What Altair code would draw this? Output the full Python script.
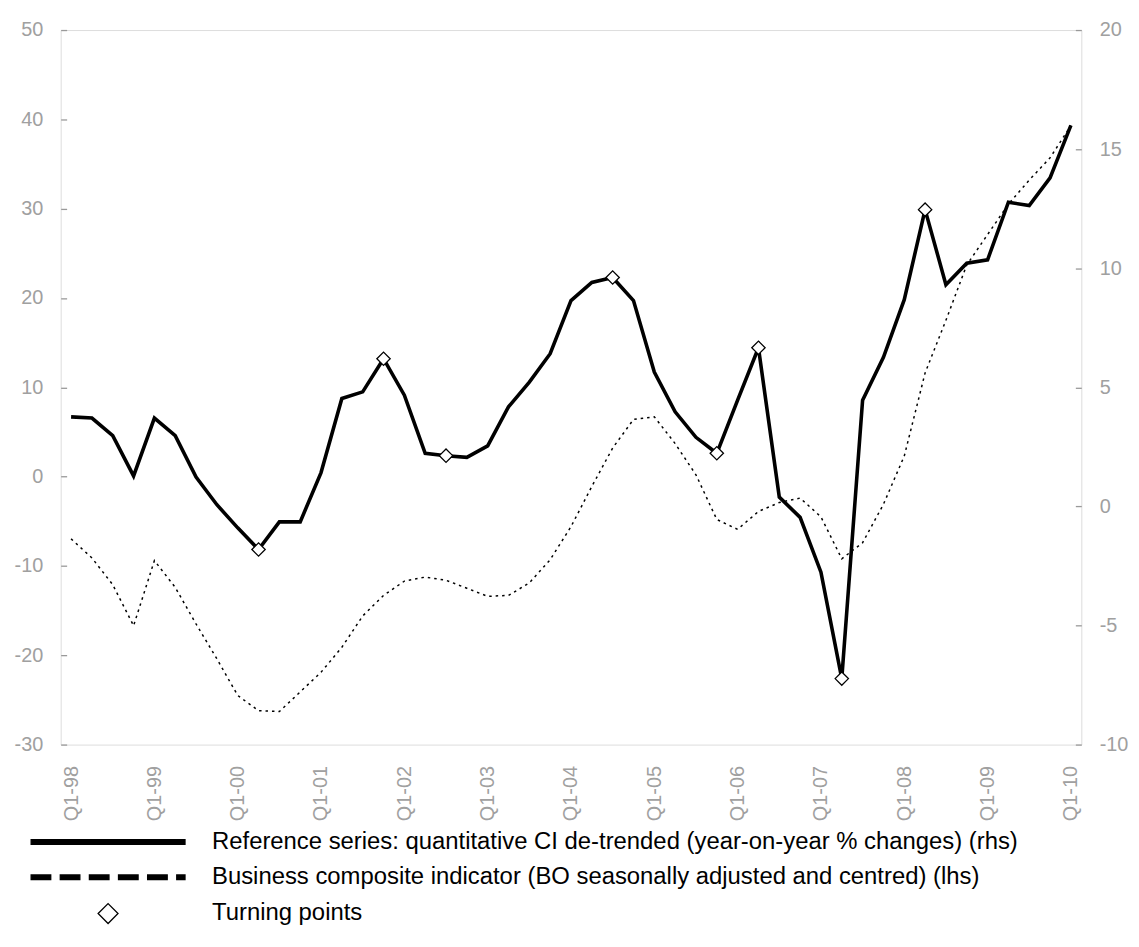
import altair as alt
import pandas as pd

quarters = [
    "Q1-98", "Q2-98", "Q3-98", "Q4-98", "Q1-99", "Q2-99", "Q3-99", "Q4-99",
    "Q1-00", "Q2-00", "Q3-00", "Q4-00", "Q1-01", "Q2-01", "Q3-01", "Q4-01",
    "Q1-02", "Q2-02", "Q3-02", "Q4-02", "Q1-03", "Q2-03", "Q3-03", "Q4-03",
    "Q1-04", "Q2-04", "Q3-04", "Q4-04", "Q1-05", "Q2-05", "Q3-05", "Q4-05",
    "Q1-06", "Q2-06", "Q3-06", "Q4-06", "Q1-07", "Q2-07", "Q3-07", "Q4-07",
    "Q1-08", "Q2-08", "Q3-08", "Q4-08", "Q1-09", "Q2-09", "Q3-09", "Q4-09",
    "Q1-10",
]

# Reference series (right-hand scale)
ref_values = [
    3.76, 3.71, 2.97, 1.28, 3.71, 2.97, 1.23, 0.07,
    -0.90, -1.81, -0.65, -0.65, 1.42, 4.53, 4.81, 6.20,
    4.67, 2.23, 2.13, 2.06, 2.54, 4.18, 5.22, 6.41,
    8.64, 9.40, 9.61, 8.64, 5.64, 3.97, 2.90, 2.23,
    4.46, 6.66, 0.39, -0.46, -2.76, -7.23, 4.46, 6.26,
    8.68, 12.46, 9.31, 10.21, 10.35, 12.77, 12.63, 13.79,
    16.0,
]

# Business composite indicator (left-hand scale)
bci_values = [
    -6.97, -9.1, -12.1, -16.7, -9.4, -12.4, -16.5, -20.4,
    -24.5, -26.2, -26.3, -24.1, -21.9, -19.1, -15.6, -13.3,
    -11.7, -11.25, -11.6, -12.5, -13.4, -13.3, -11.9, -9.3,
    -5.6, -1.1, 3.2, 6.4, 6.7, 3.7, 0.2, -4.8,
    -5.9, -3.9, -2.9, -2.4, -4.5, -9.2, -7.4, -3.1,
    2.3, 11.6, 17.5, 23.7, 27.1, 30.5, 33.2, 35.7,
    39.3,
]

turning_points = ["Q2-00", "Q4-01", "Q3-02", "Q3-04", "Q4-05", "Q2-06", "Q2-07", "Q2-08"]

series_names = [
    "Reference series: quantitative CI de-trended (year-on-year % changes) (rhs)",
    "Business composite indicator (BO seasonally adjusted and centred) (lhs)",
    "Turning points",
]

year_labels = ["Q1-98", "Q1-99", "Q1-00", "Q1-01", "Q1-02", "Q1-03", "Q1-04",
               "Q1-05", "Q1-06", "Q1-07", "Q1-08", "Q1-09", "Q1-10"]
left_ticks = [-30, -20, -10, 0, 10, 20, 30, 40, 50]
right_ticks = [-10, -5, 0, 5, 10, 15, 20]

df = pd.DataFrame({"quarter": quarters, "ref": ref_values, "bci": bci_values})
tp_df = df[df["quarter"].isin(turning_points)].copy()
tp_df["series"] = series_names[2]

FONT = "Liberation Sans"
LABEL_GRAY = "#a0a0a0"
LINE_GRAY = "#999999"

# legend symbol shapes (unit space, scaled by sqrt(size)/2)
solid_path = "M-7.74,-0.235H7.74V0.235H-7.74Z"
dash_starts = [(-7.74, -5.77), (-4.81, -2.84), (-1.88, 0.09), (1.05, 3.02), (3.98, 5.95), (6.91, 7.74)]
dashed_path = " ".join(f"M{a},-0.235H{b}V0.235H{a}Z" for a, b in dash_starts)

x_enc = alt.X(
    "quarter:O",
    sort=quarters,
    scale=alt.Scale(type="point", padding=0.5),
    axis=alt.Axis(
        values=year_labels, labelAngle=270, ticks=False, domain=False, grid=False,
        labelPadding=21, labelFontSize=20, labelFont=FONT, labelColor=LABEL_GRAY,
        labelOverlap=False, title=None,
    ),
)

y_axis_common = dict(
    offset=-6, tickSize=6, tickWidth=1.3, tickColor=LINE_GRAY, domain=False, grid=False,
    labelPadding=18, labelFontSize=20, labelFont=FONT, labelColor=LABEL_GRAY, title=None,
    labelExpr="'' + datum.value",
)

bci = alt.Chart(df).mark_line(color="black", strokeWidth=1.5, strokeDash=[2.5, 4]).encode(
    x=x_enc,
    y=alt.Y(
        "bci:Q",
        scale=alt.Scale(domain=[-30, 50], nice=False, zero=False),
        axis=alt.Axis(orient="left", values=left_ticks, **y_axis_common),
    ),
)

ref = alt.Chart(df).mark_line(color="black", strokeWidth=3.6).encode(
    x=x_enc,
    y=alt.Y(
        "ref:Q",
        scale=alt.Scale(domain=[-10, 20], nice=False, zero=False),
        axis=alt.Axis(orient="right", values=right_ticks, **y_axis_common),
    ),
)

leg = alt.Legend(
    title=None, orient="none", legendX=35.7, legendY=805, direction="vertical",
    columns=1, symbolSize=400, symbolStrokeWidth=1.3,
    labelFont=FONT, labelFontSize=24, labelColor="black", labelLimit=1000,
    labelOffset=92.6, rowPadding=11.5, padding=0, symbolOffset=0,
)

pts = alt.Chart(tp_df).mark_point(size=180, opacity=1, filled=True, stroke="black", strokeWidth=1.3).encode(
    x=x_enc,
    y=alt.Y("ref:Q", scale=alt.Scale(domain=[-10, 20], nice=False, zero=False), axis=None),
    shape=alt.Shape("series:N", scale=alt.Scale(domain=series_names, range=[solid_path, dashed_path, "diamond"]), legend=leg),
    fill=alt.Fill("series:N", scale=alt.Scale(domain=series_names, range=["black", "black", "white"]), legend=leg),
)

chart = (
    alt.layer(bci, ref, pts)
    .resolve_scale(y="independent")
    .properties(
        width=1027, height=719,
        autosize=alt.AutoSizeParams(type="none"),
        padding={"left": 53, "top": 19.3, "right": 50, "bottom": 183.7},
    )
    .configure_view(stroke=LINE_GRAY, strokeWidth=1.3)
    .configure(font=FONT)
)

chart.save("out.html", embed_options={"renderer": "svg", "actions": False})
